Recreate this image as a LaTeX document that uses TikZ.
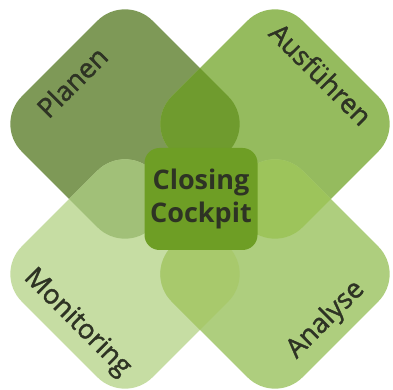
\documentclass[tikz,border=0pt]{standalone}
\usepackage{fontspec}
\setmainfont{Open Sans}
\newfontfamily\tagfont[FakeBold=1.5]{Open Sans}

\definecolor{planen}{HTML}{7E9957}
\definecolor{ausfuehren}{HTML}{95BB5E}
\definecolor{monitoring}{HTML}{C6DDA3}
\definecolor{analyse}{HTML}{AECE7E}
\definecolor{planaus}{HTML}{6F9B2E}
\definecolor{planmon}{HTML}{A1C078}
\definecolor{ausana}{HTML}{9DC45B}
\definecolor{monana}{HTML}{A8C96C}
\definecolor{cockpit}{HTML}{6E9E25}
\definecolor{ink}{HTML}{2E3324}

\begin{document}
\begin{tikzpicture}[x=1pt, y=1pt,
		leaf/.style={shift={#1}, rotate=45, rounded corners=39pt},
		tag/.style={text=ink, inner sep=0pt, font=\tagfont\fontsize{27}{32}\selectfont},
		cockpitbox/.style={fill=cockpit, rounded corners=15pt, minimum width=113pt, minimum height=102pt,
			inner sep=0pt, align=center, text=ink, font=\fontsize{27}{33}\selectfont\bfseries}]
			\useasboundingbox (-200,-191) rectangle (193,199);

			\foreach \px/\py/\col in {-75/75/planen, 75/75/ausfuehren, -75/-75/monitoring, 75/-75/analyse}
				\fill[leaf={(\px,\py)}, \col] (-92.5,-92.5) rectangle (92.5,92.5);

			\foreach \ax/\ay/\bx/\by/\col in {-75/75/75/75/planaus, -75/75/-75/-75/planmon,
				75/75/75/-75/ausana, -75/-75/75/-75/monana}{
				\begin{scope}
					\clip[leaf={(\ax,\ay)}] (-92.5,-92.5) rectangle (92.5,92.5);
					\fill[leaf={(\bx,\by)}, \col] (-92.5,-92.5) rectangle (92.5,92.5);
				\end{scope}
			}

			\node[tag, rotate=45] (planenlbl) at (-128,117) {Planen};
			\node[tag, rotate=-45] (ausfuehrenlbl) at (121,125) {Ausführen};
			\node[tag, rotate=-45] (monitoringlbl) at (-123,-124) {Monitoring};
			\node[tag, rotate=45] (analyselbl) at (126,-121) {Analyse};

			\node[cockpitbox] (cockpit) at (1,0) {Closing\\Cockpit};
		\end{tikzpicture}
\end{document}
